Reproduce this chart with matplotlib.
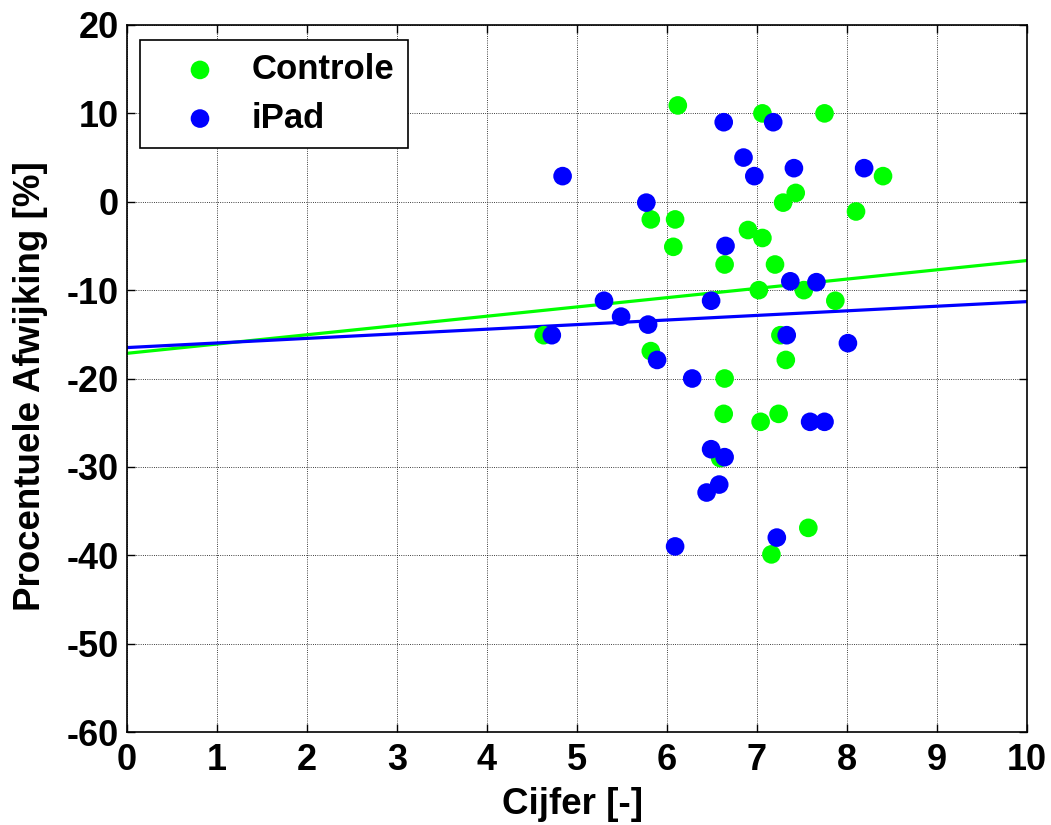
import numpy as np
import matplotlib
matplotlib.use('Agg')
import matplotlib.pyplot as plt

plt.rcParams['font.family'] = ['Liberation Sans', 'DejaVu Sans']
plt.rcParams['font.weight'] = 'bold'
plt.rcParams['axes.unicode_minus'] = False

# Controle groep
controle_x = [6.12, 7.06, 7.75, 8.40, 7.43, 7.29, 8.10, 5.82, 6.09, 6.90,
              7.06, 6.07, 6.64, 7.20, 7.02, 7.52, 7.87, 7.26, 4.63, 5.82,
              7.32, 6.64, 6.63, 7.04, 7.24, 6.59, 7.57, 7.16]
controle_y = [10.9, 10.0, 10.0, 2.9, 1.0, -0.1, -1.1, -2.0, -2.0, -3.2,
              -4.1, -5.1, -7.1, -7.1, -10.0, -10.0, -11.2, -15.1, -15.1, -16.9,
              -17.9, -20.0, -24.0, -24.9, -24.0, -29.0, -36.9, -39.9]

# iPad groep
ipad_x = [4.84, 6.63, 7.18, 6.85, 6.97, 7.41, 8.19, 5.77, 6.65, 7.37,
          7.66, 5.30, 6.49, 5.49, 5.79, 4.72, 7.33, 8.01, 5.89, 6.28,
          7.59, 7.75, 6.49, 6.64, 6.58, 6.44, 7.22, 6.09]
ipad_y = [2.9, 9.0, 9.0, 5.0, 2.9, 3.8, 3.8, -0.1, -5.0, -9.0,
          -9.1, -11.2, -11.2, -13.0, -13.9, -15.1, -15.1, -16.0, -17.9, -20.0,
          -24.9, -24.9, -28.0, -28.9, -32.0, -32.9, -38.0, -39.0]

controle_fit = [1.05, -17.15]
ipad_fit = [0.52, -16.5]

fig = plt.figure(figsize=(10.51, 8.25), dpi=100)
ax = fig.add_axes([0.1208, 0.1127, 0.8564, 0.857])

xl = np.array([0, 10])
ax.plot(xl, np.polyval(controle_fit, xl), color='#00ff00', lw=2.3, zorder=2)
ax.plot(xl, np.polyval(ipad_fit, xl), color='#0000ff', lw=2.3, zorder=2)

ax.scatter(controle_x, controle_y, s=180, color='#00ff00', edgecolors='none', zorder=3, label='Controle')
ax.scatter(ipad_x, ipad_y, s=180, color='#0000ff', edgecolors='none', zorder=3, label='iPad')

ax.set_xlim(0, 10)
ax.set_ylim(-60, 20)
ax.set_xticks(range(0, 11))
ax.set_yticks(range(-60, 21, 10))
ax.grid(True, color='black', linestyle=':', linewidth=0.6)
ax.tick_params(direction='in', length=6, width=1, top=True, right=True, labelsize=26)
ax.tick_params(axis='x', pad=8)
ax.tick_params(axis='y', pad=6)
for s in ax.spines.values():
    s.set_linewidth(1.2)

ax.set_xlabel('Cijfer [-]', fontsize=26.5, fontweight='bold')
ax.set_ylabel('Procentuele Afwijking [%]', fontsize=26.5, fontweight='bold')
ax.xaxis.set_label_coords(0.4955, -0.078)
ax.yaxis.set_label_coords(-0.088, 0.49)

leg = ax.legend(loc='upper left', bbox_to_anchor=(0.0144, 0.979), fontsize=25,
                fancybox=False, edgecolor='black', framealpha=1,
                handlelength=2.7, handletextpad=0.15, borderpad=0.38, labelspacing=0.45,
                scatterpoints=1, borderaxespad=0)
leg.get_frame().set_linewidth(1.2)

fig.savefig('out.png', dpi=100)
